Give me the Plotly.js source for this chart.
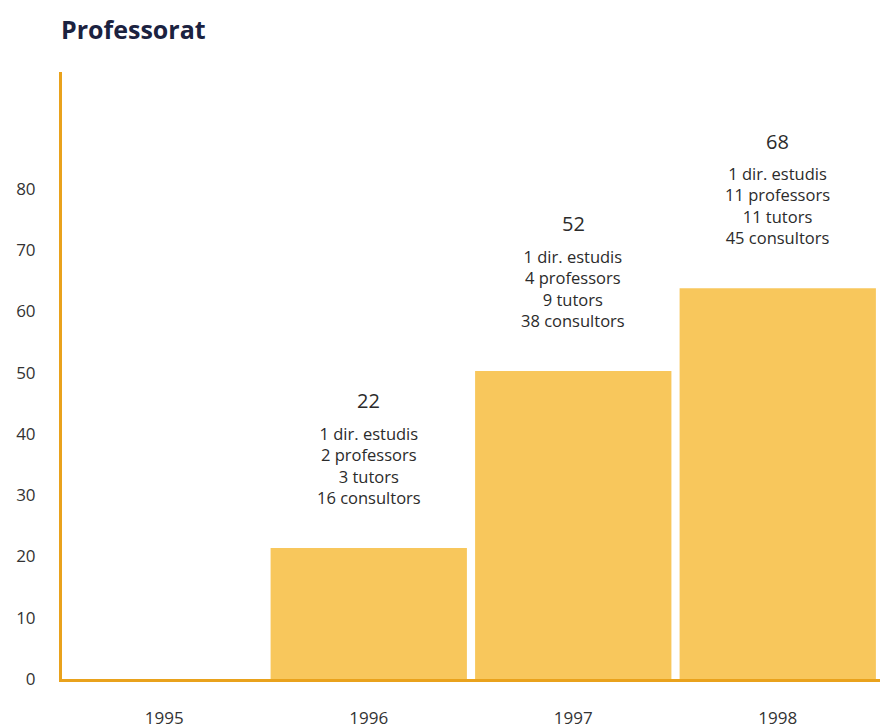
<!DOCTYPE html>
<html>
<head>
<meta charset="utf-8">
<script src="https://cdn.plot.ly/plotly-3.0.1.min.js"></script>
<style>html,body{margin:0;padding:0;background:#fff;}#chart{width:884px;height:728px;}</style>
</head>
<body>
<div id="chart"></div>
<script>
// Data
const years = ['1995', '1996', '1997', '1998'];
const barHeights = [0, 21.4, 50.3, 63.8];      // drawn bar heights
const totals = ['', '22', '52', '68'];          // printed totals
const dirEstudis = ['', '1 dir. estudis', '1 dir. estudis', '1 dir. estudis'];
const professors = ['', '2 professors', '4 professors', '11 professors'];
const tutors = ['', '3 tutors', '9 tutors', '11 tutors'];
const consultors = ['', '16 consultors', '38 consultors', '45 consultors'];
const yTicks = [0, 10, 20, 30, 40, 50, 60, 70, 80];

const FONT = 'Open Sans, Noto Sans, sans-serif';
const orange = '#E9A21C';
const barColor = '#F8C75C';

const annotations = [];
years.forEach((yr, i) => {
  if (!totals[i]) return;
  annotations.push({
    x: i, y: barHeights[i], xref: 'x', yref: 'y',
    text: totals[i], showarrow: false,
    yanchor: 'middle', yshift: 147,
    font: {family: FONT, size: 20, color: '#2b2b2b'}
  });
  annotations.push({
    x: i, y: barHeights[i], xref: 'x', yref: 'y',
    text: [dirEstudis[i], professors[i], tutors[i], consultors[i]].join('<br>'),
    showarrow: false, align: 'center',
    yanchor: 'bottom', yshift: 37,
    font: {family: FONT, size: 16.5, color: '#2b2b2b'}
  });
});

const trace = {
  type: 'bar',
  x: years,
  y: barHeights,
  marker: {color: barColor},
  hoverinfo: 'x+y'
};

const layout = {
  width: 884, height: 728,
  margin: {l: 62, r: 4, t: 72, b: 49},
  paper_bgcolor: '#fff', plot_bgcolor: '#fff',
  showlegend: false,
  bargap: 0.04,
  title: {
    text: '<b>Professorat</b>',
    font: {family: FONT, size: 25, color: '#1b2240', weight: 800},
    x: 61/884, xanchor: 'left', xref: 'container',
    y: 1 - 30/728, yanchor: 'middle', yref: 'container'
  },
  xaxis: {
    type: 'category',
    range: [-0.5, 3.5], autorange: false,
    showline: true, linecolor: orange, linewidth: 3,
    showgrid: false, zeroline: false,
    ticks: 'outside', ticklen: 22, tickcolor: 'rgba(0,0,0,0)',
    tickfont: {family: FONT, size: 17, color: '#333'}
  },
  yaxis: {
    range: [0, 99.1], autorange: false,
    showline: true, linecolor: orange, linewidth: 3,
    showgrid: false, zeroline: false,
    tickvals: yTicks, ticktext: yTicks.map(String),
    ticks: 'outside', ticklen: 20, tickcolor: 'rgba(0,0,0,0)',
    tickfont: {family: FONT, size: 17, color: '#333'}
  },
  annotations: annotations
};

Plotly.newPlot('chart', [trace], layout, {displayModeBar: false, staticPlot: true});
</script>
</body>
</html>
